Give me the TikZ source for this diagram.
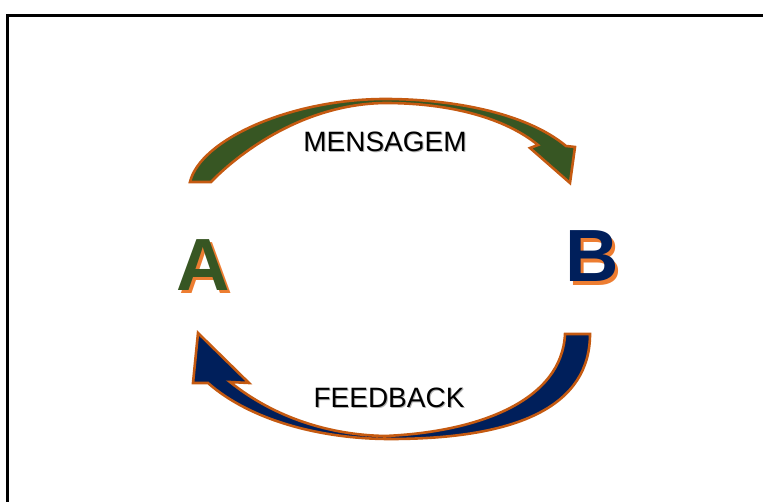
\documentclass[tikz,border=0pt]{standalone}
\usepackage{fontspec}
\setmainfont{Liberation Sans}
\definecolor{arrgreen}{HTML}{375623}
\definecolor{arrnavy}{HTML}{001F5B}
\definecolor{rimorange}{HTML}{C55A11}
\definecolor{shadeorange}{HTML}{ED7D31}
\newcommand{\shadowtext}[4]{\rlap{\kern#3\raisebox{-#3}{\textcolor{#2}{#4}}}\textcolor{#1}{#4}}
\begin{document}
\begin{tikzpicture}[x=1pt,y=-1pt,
  band/.style={draw=rimorange,line width=2.6pt,line join=miter},
  bigletter/.style={inner sep=0pt,font=\fontsize{74}{80}\selectfont\bfseries},
  lbl/.style={inner sep=0pt,font=\fontsize{28}{30}\selectfont},
  frameline/.style={line width=3pt,black}]
\useasboundingbox (0,0) rectangle (763,502);
% frame
\coordinate (f1) at (7.5,502);
\coordinate (f2) at (7.5,15.5);
\coordinate (f3) at (763,15.5);
\draw[frameline] (f1) -- (f2) -- (f3);
% top arrow (green)
\fill[arrgreen,band]
  (190,182) .. controls (200,140) and (290,99) .. (385,99)
  .. controls (450,99) and (525,112) .. (566,146)
  -- (575,147) -- (570,183) -- (530,148) -- (538,145)
  .. controls (505,118) and (450,103) .. (385,103)
  .. controls (300,104) and (235,157) .. (211,182) -- cycle;
% bottom arrow (navy)
\fill[arrnavy,band]
  (590,334) .. controls (590,405) and (520,439) .. (390,439)
  .. controls (320,439) and (250,420) .. (208,383)
  -- (193,383) -- (198,333) -- (249,383) -- (230,382)
  .. controls (275,418) and (330,435) .. (385,436)
  .. controls (480,432) and (562,400) .. (565,334) -- cycle;
% letters (with offset shadow)
\node[bigletter] (A) at (203,267) {\shadowtext{arrgreen}{shadeorange}{3pt}{A}};
\node[bigletter] (B) at (592,258) {\shadowtext{arrnavy}{shadeorange}{3.5pt}{B}};
% labels
\node[lbl] (msg) at (385,142) {\shadowtext{black}{black!30}{1pt}{MENSAGEM}};
\node[lbl] (fb) at (389,398) {\shadowtext{black}{black!30}{1pt}{FEEDBACK}};
\end{tikzpicture}
\end{document}
